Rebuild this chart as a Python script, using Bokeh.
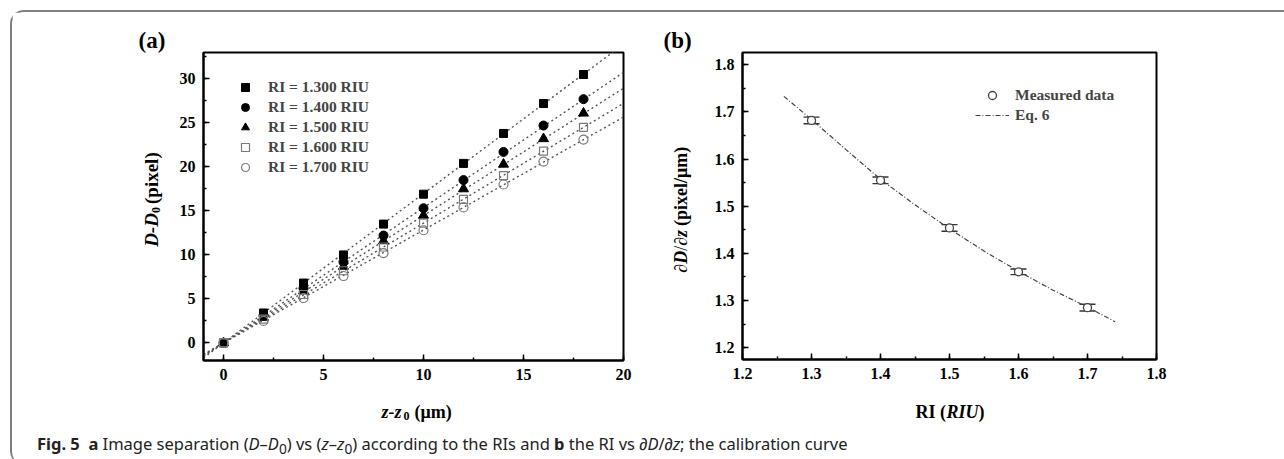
import math
from bokeh.plotting import figure
from bokeh.models import (Legend, LegendItem, SingleIntervalTicker, PrintfTickFormatter,
                          Whisker, ColumnDataSource, TeeHead, Div, Range1d, Title)
from bokeh.core.properties import value
from bokeh.layouts import row, column
from bokeh.embed import file_html
from bokeh.resources import INLINE

# ---------------- data (panel a) ----------------
z_shift = [0, 2, 4, 6, 8, 10, 12, 14, 16, 18]
sep_ri130 = [0, 3.4, 6.8, 10.0, 13.5, 16.9, 20.4, 23.8, 27.2, 30.5]
sep_ri140 = [0, 3.1, 6.2, 9.2, 12.2, 15.3, 18.5, 21.7, 24.7, 27.7]
sep_ri150 = [0, 2.9, 5.9, 8.7, 11.6, 14.5, 17.5, 20.3, 23.2, 26.1]
sep_ri160 = [0, 2.7, 5.5, 8.2, 10.9, 13.6, 16.3, 19.0, 21.8, 24.5]
sep_ri170 = [0, 2.5, 5.1, 7.6, 10.2, 12.8, 15.4, 18.0, 20.6, 23.1]
fit_slopes = [1.697, 1.537, 1.447, 1.361, 1.283]
fit_z = [-1, 20]
legend_a = ["RI = 1.300 RIU", "RI = 1.400 RIU", "RI = 1.500 RIU", "RI = 1.600 RIU", "RI = 1.700 RIU"]

# ---------------- data (panel b) ----------------
ri_values = [1.3, 1.4, 1.5, 1.6, 1.7]
dDdz_meas = [1.682, 1.555, 1.454, 1.361, 1.285]
dDdz_err = [0.007, 0.007, 0.007, 0.006, 0.007]
eq6_ri = [1.26, 1.30, 1.35, 1.40, 1.45, 1.50, 1.55, 1.60, 1.65, 1.70, 1.74]
eq6_val = [1.733, 1.684, 1.620, 1.557, 1.503, 1.452, 1.405, 1.362, 1.322, 1.286, 1.255]

SERIF = "Liberation Serif"


def panel_title(text, offset):
    return Title(text=text, align="left", offset=offset, standoff=0, vertical_align="bottom",
                 text_font=SERIF, text_font_size="23px", text_font_style="bold", text_color="black")


def style(p):
    p.outline_line_color = "black"
    p.outline_line_width = 2
    p.grid.visible = False
    for ax in p.axis:
        ax.axis_line_width = 2
        ax.major_tick_in = 6
        ax.major_tick_out = 0
        ax.minor_tick_in = 3
        ax.minor_tick_out = 0
        ax.major_tick_line_width = 1.5
        ax.minor_tick_line_width = 1.5
        ax.major_label_text_font = SERIF
        ax.major_label_text_font_style = "bold"
        ax.major_label_text_font_size = "16px"
        ax.major_label_text_color = "black"
        ax.major_label_standoff = 8


def strip(w, h, top=0, bottom=0, title=None):
    kw = dict(title=title) if title is not None else dict(title_location=None)
    s = figure(width=w, height=h, x_range=Range1d(0, w), y_range=Range1d(0, h - top - bottom),
               min_border_left=0, min_border_right=0, min_border_top=top, min_border_bottom=bottom,
               x_axis_type=None, y_axis_type=None, output_backend="svg", toolbar_location=None, **kw)
    s.outline_line_color = None
    return s


def txt(s, x, y, t, size, fstyle="bold", angle=0.0, baseline="alphabetic"):
    s.text(x=[x], y=[y], text=[t], text_font=value(SERIF), text_font_size=value(f"{size}px"),
           text_font_style=value(fstyle), angle=angle, text_align=value("left"),
           text_baseline=value(baseline), text_color="black")


# ================= panel a =================
pa = figure(frame_width=420, frame_height=308, min_border_left=33, min_border_right=17,
            min_border_top=40, min_border_bottom=30, x_range=Range1d(-1, 20), y_range=Range1d(-2, 33),
            title_location=None, output_backend="svg", toolbar_location=None)
style(pa)
pa.xaxis.ticker = SingleIntervalTicker(interval=5, num_minor_ticks=2)
pa.yaxis.ticker = SingleIntervalTicker(interval=5, num_minor_ticks=2)

series = [sep_ri130, sep_ri140, sep_ri150, sep_ri160, sep_ri170]
markers = ["square", "circle", "triangle", "square", "circle"]
sizes = [8, 9, 10, 8, 9]
fills = ["black", "black", "black", None, None]
lines = ["black", "black", "black", "#7a7a7a", "#7a7a7a"]

for s_ in fit_slopes:
    pa.line(fit_z, [s_ * zz for zz in fit_z], line_dash="2 3", line_width=1.4, line_color="#555555")

items = []
for vals, mk, sz, fc, lc, name in zip(series, markers, sizes, fills, lines, legend_a):
    r = pa.scatter(z_shift, vals, marker=mk, size=sz, fill_color=fc, line_color=lc,
                   line_width=1.2 if fc is None else 1)
    items.append(LegendItem(label=name, renderers=[r]))

pa.add_layout(Legend(items=items, location=(32, 183), glyph_width=20, glyph_height=20,
                     label_height=20, spacing=0, label_standoff=13, padding=0, margin=0,
                     border_line_alpha=0, background_fill_alpha=0, label_text_font=SERIF,
                     label_text_font_style="bold", label_text_font_size="15.5px"))

# ================= panel b =================
pb = figure(frame_width=414, frame_height=307, min_border_left=42, min_border_right=126,
            min_border_top=40, min_border_bottom=31, x_range=Range1d(1.2, 1.8),
            y_range=Range1d(1.175, 1.826), title_location=None, output_backend="svg",
            toolbar_location=None)
style(pb)
pb.xaxis.ticker = SingleIntervalTicker(interval=0.1, num_minor_ticks=2)
pb.yaxis.ticker = SingleIntervalTicker(interval=0.1, num_minor_ticks=2)
pb.xaxis.formatter = PrintfTickFormatter(format="%.1f")
pb.yaxis.formatter = PrintfTickFormatter(format="%.1f")

eq = pb.line(eq6_ri, eq6_val, line_dash="5 2 1 2", line_width=1.2, line_color="#444444")
src = ColumnDataSource(dict(x=ri_values, y=dDdz_meas,
                            upper=[v + e for v, e in zip(dDdz_meas, dDdz_err)],
                            lower=[v - e for v, e in zip(dDdz_meas, dDdz_err)]))
pb.add_layout(Whisker(source=src, base="x", upper="upper", lower="lower", dimension="height",
                      line_color="#333333", line_width=1.2,
                      upper_head=TeeHead(size=16, line_width=1.4, line_color="#333333"),
                      lower_head=TeeHead(size=16, line_width=1.4, line_color="#333333")))
meas = pb.scatter("x", "y", source=src, marker="circle", size=8, fill_color="white",
                  line_color="#444444", line_width=1.3)

pb.add_layout(Legend(items=[LegendItem(label="Measured data", renderers=[meas]),
                            LegendItem(label="Eq. 6", renderers=[eq])],
                     location=(233, 234), glyph_width=34, glyph_height=20, label_height=20,
                     spacing=0, label_standoff=6, padding=0, margin=0, border_line_alpha=0,
                     background_fill_alpha=0, label_text_font=SERIF, label_text_font_style="bold",
                     label_text_font_size="15.5px"))

# ================= y-title strips (frames aligned with the panels) =================
up = math.pi / 2
sa = strip(158, 378, top=40, bottom=30, title=panel_title("(a)", 126))
txt(sa, 139, 113, "D-D", 19, "bold italic", angle=up)
txt(sa, 143, 147, "0", 12, "bold", angle=up)
txt(sa, 139, 156, "(pixel)", 19, "bold", angle=up)

sb = strip(60, 378, top=40, bottom=30, title=panel_title("(b)", 23))
txt(sb, 40, 87, "∂", 18, "normal", angle=up)
txt(sb, 40, 96, "D", 18, "bold italic", angle=up)
txt(sb, 40, 109, "/∂", 18, "normal", angle=up)
txt(sb, 40, 123, "z", 18, "bold italic", angle=up)
txt(sb, 40, 134, "(pixel/μm)", 18, "bold", angle=up)

# ================= x-title strip =================
sx = strip(1270, 32)
txt(sx, 369, 11, "z-z", 18, "bold italic")
txt(sx, 391, 7, "0", 12, "bold")
txt(sx, 402, 11, "(μm)", 18, "bold")
txt(sx, 903, 11, "RI (", 18, "bold")
txt(sx, 934, 11, "RIU", 18, "bold italic")
txt(sx, 966, 11, ")", 18, "bold")

caption = Div(text=("<b>Fig. 5</b>&nbsp; <b>a</b> Image separation (<i>D</i>–<i>D</i><sub>0</sub>) vs "
                    "(<i>z</i>–<i>z</i><sub>0</sub>) according to the RIs and <b>b</b> the RI vs "
                    "∂<i>D</i>/∂<i>z</i>; the calibration curve"),
              width=1270, height=33,
              styles={"font-family": "'Noto Sans', sans-serif", "font-size": "16.5px",
                      "padding-left": "20px", "padding-top": "5px", "color": "#222",
                      "white-space": "nowrap", "box-sizing": "border-box"})

layout = column(row(sa, pa, sb, pb), sx, caption, margin=(10, 0, 0, 10),
                styles={"border-top": "2px solid #808080", "border-left": "2px solid #808080",
                        "border-top-left-radius": "14px", "border-bottom-left-radius": "14px"})

with open("out.html", "w") as f:
    f.write(file_html(layout, INLINE))
